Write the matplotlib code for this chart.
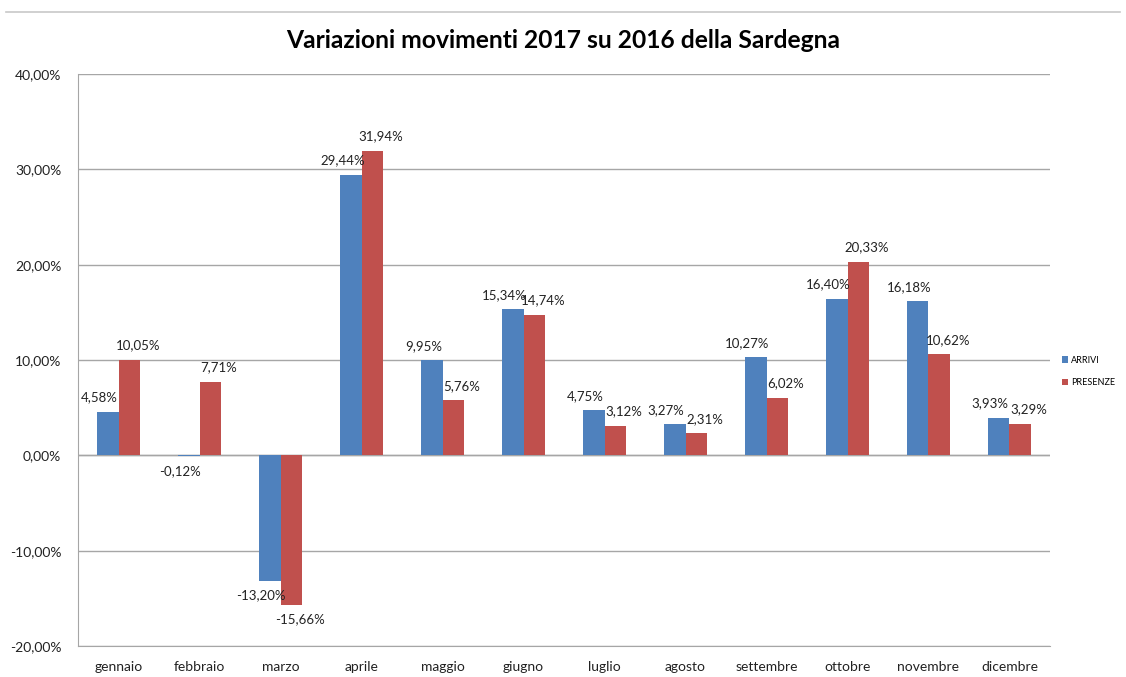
import matplotlib.pyplot as plt
import numpy as np
from matplotlib.lines import Line2D

plt.rcParams['font.family'] = ['Lato', 'DejaVu Sans']

mesi = ['gennaio', 'febbraio', 'marzo', 'aprile', 'maggio', 'giugno',
        'luglio', 'agosto', 'settembre', 'ottobre', 'novembre', 'dicembre']
arrivi = [4.58, -0.12, -13.20, 29.44, 9.95, 15.34, 4.75, 3.27, 10.27, 16.40, 16.18, 3.93]
presenze = [10.05, 7.71, -15.66, 31.94, 5.76, 14.74, 3.12, 2.31, 6.02, 20.33, 10.62, 3.29]

blu = '#4F81BD'
rosso = '#C0504D'
grigio = '#A6A6A6'

fig = plt.figure(figsize=(11.26, 6.77), dpi=100)
ax = fig.add_axes([0.0693, 0.0458, 0.8632, 0.8449])

x = np.arange(len(mesi))
w = 0.27
b1 = ax.bar(x - w / 2, arrivi, w, color=blu, label='ARRIVI', zorder=3)
b2 = ax.bar(x + w / 2, presenze, w, color=rosso, label='PRESENZE', zorder=3)

def fmt(v):
    return f'{v:.2f}'.replace('.', ',') + '%'

for bars, vals, dx in [(b1, arrivi, -6), (b2, presenze, 6)]:
    for r, v in zip(bars, vals):
        cx = r.get_x() + r.get_width() / 2
        if v >= 0:
            ax.annotate(fmt(v), (cx, v), xytext=(dx, 6), textcoords='offset points',
                        ha='center', va='bottom', fontsize=9.5, color='#222222')
        else:
            ax.annotate(fmt(v), (cx, v), xytext=(dx, -6), textcoords='offset points',
                        ha='center', va='top', fontsize=9.5, color='#222222')

ax.set_xlim(-0.5, len(mesi) - 0.5)
ax.set_ylim(-20, 40)
ax.set_yticks(np.arange(-20, 41, 10))
ax.set_yticklabels([fmt(v) for v in np.arange(-20, 41, 10)])
ax.set_xticks(x)
ax.set_xticklabels(mesi)
ax.tick_params(axis='both', length=0, labelsize=10, colors='#222222')
ax.tick_params(axis='x', pad=11)
ax.tick_params(axis='y', pad=12)

ax.grid(axis='y', color=grigio, linewidth=1, zorder=0)
for s in ['top', 'right']:
    ax.spines[s].set_visible(False)
ax.spines['left'].set_color(grigio)
ax.spines['bottom'].set_color(grigio)
ax.axhline(0, color=grigio, linewidth=1, zorder=2)

fig.suptitle('Variazioni movimenti 2017 su 2016 della Sardegna', y=0.957,
             fontsize=17.7, fontweight='bold', color='black')
fig.add_artist(Line2D([0.005, 0.995], [0.982, 0.982], color='#C8C8C8', linewidth=1.2))

ax.legend(loc='center left', bbox_to_anchor=(1.006, 0.48), frameon=False,
          fontsize=6.5, handlelength=0.7, handleheight=0.7, handletextpad=0.3,
          labelspacing=1.5, borderpad=0.2)

fig.savefig('out.png', dpi=100)
